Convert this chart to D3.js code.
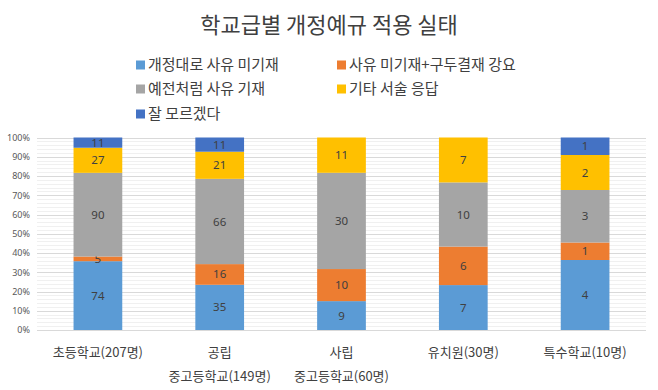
<!DOCTYPE html>
<html><head><meta charset="utf-8">
<script src="https://cdn.jsdelivr.net/npm/d3@7"></script>
<style>
html,body{margin:0;padding:0;background:#fff;}
svg{display:block;font-family:"Noto Sans CJK KR","Noto Sans",sans-serif;}
</style></head>
<body><svg id="c" width="658" height="390"></svg>
<script>
const title = "학교급별 개정예규 적용 실태";
const categories = [["초등학교(207명)"],["공립","중고등학교(149명)"],["사립","중고등학교(60명)"],["유치원(30명)"],["특수학교(10명)"]];
const seriesNames = ["개정대로 사유 미기재","사유 미기재+구두결재 강요","예전처럼 사유 기재","기타 서술 응답","잘 모르겠다"];
const colors = ["#5B9BD5","#ED7D31","#A5A5A5","#FFC000","#4472C4"];
const s1 = [74,35,9,7,4];
const s2 = [5,16,10,6,1];
const s3 = [90,66,30,10,3];
const s4 = [27,21,11,7,2];
const s5 = [11,11,0,0,1];
const seriesValues = [s1,s2,s3,s4,s5];
const yTicks = [0,0.1,0.2,0.3,0.4,0.5,0.6,0.7,0.8,0.9,1];

const svg = d3.select("#c");
const W=658,H=390;
const m={l:37,r:12,t:138,b:60};
const x = d3.scaleBand().domain(d3.range(categories.length)).range([m.l,W-m.r]).paddingInner(0.6).paddingOuter(0.3);
const y = d3.scaleLinear().domain([0,1]).range([330,137.5]);

const rows = categories.map((c,i)=>{const o={i}; seriesNames.forEach((s,k)=>o[k]=seriesValues[k][i]); return o;});
const stack = d3.stack().keys(d3.range(seriesNames.length)).offset(d3.stackOffsetExpand);
const stacked = stack(rows);

// title
svg.append("text").attr("x",329).attr("y",33).attr("text-anchor","middle")
  .attr("font-size",22).attr("fill","#404040").text(title);

// legend
const legPos = [[136,65],[337,65],[136,89],[337,89],[136,114]];
seriesNames.forEach((s,k)=>{
  const g=svg.append("g").attr("transform",`translate(${legPos[k][0]},${legPos[k][1]})`);
  g.append("rect").attr("x",0).attr("y",-4.5).attr("width",9).attr("height",9).attr("fill",colors[k]);
  g.append("text").attr("x",12).attr("y",0).attr("dy","0.35em").attr("font-size",15).attr("fill","#404040").text(s);
});

// gridlines
const minor = d3.range(0,1.0001,0.02);
svg.append("g").selectAll("line").data(minor).join("line")
  .attr("x1",m.l).attr("x2",W-m.r).attr("y1",d=>Math.round(y(d))+0.5).attr("y2",d=>Math.round(y(d))+0.5)
  .attr("stroke","#f0f0f0").attr("stroke-width",1);
svg.append("g").selectAll("line").data(yTicks).join("line")
  .attr("x1",m.l).attr("x2",W-m.r).attr("y1",d=>Math.round(y(d))+0.5).attr("y2",d=>Math.round(y(d))+0.5)
  .attr("stroke","#d9d9d9").attr("stroke-width",1);

// y axis labels
const yAxis = d3.axisLeft(y).tickValues(yTicks).tickFormat(d3.format(".0%")).tickSize(0).tickPadding(7);
const ya = svg.append("g").attr("transform",`translate(${m.l},0)`).call(yAxis);
ya.select(".domain").remove();
ya.selectAll("text").attr("font-size",9).attr("fill","#595959").attr("font-family","'Noto Sans',sans-serif");

// bars
stacked.forEach((ser,k)=>{
  const g = svg.append("g");
  g.selectAll("rect").data(ser).join("rect")
    .attr("x",(d,i)=>x(i)).attr("width",x.bandwidth())
    .attr("y",d=>y(d[1])).attr("height",d=>Math.max(0,y(d[0])-y(d[1])))
    .attr("fill",colors[k]);
  g.selectAll("text").data(ser.filter((d,i)=>seriesValues[k][i]>0).map(d=>({d,i:d.data.i}))).join("text")
    .attr("x",o=>x(o.i)+x.bandwidth()/2).attr("y",o=>(y(o.d[0])+y(o.d[1]))/2)
    .attr("dy","0.35em").attr("text-anchor","middle").attr("font-size",11.5).attr("fill","#404040")
    .attr("font-family","'Noto Sans',sans-serif")
    .text(o=>seriesValues[k][o.i]);
});

// x labels
categories.forEach((c,i)=>{
  c.forEach((line,j)=>{
    svg.append("text").attr("x",x(i)+x.bandwidth()/2).attr("y",357+j*24)
      .attr("text-anchor","middle").attr("font-size",13).attr("fill","#404040").text(line);
  });
});
</script></body></html>
